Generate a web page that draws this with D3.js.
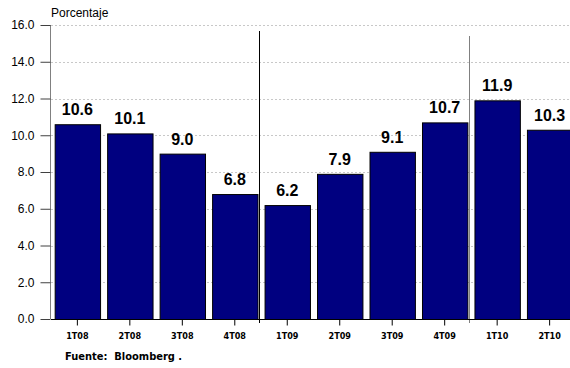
<!DOCTYPE html>
<html><head><meta charset="utf-8">
<script src="https://cdn.jsdelivr.net/npm/d3@7"></script>
<style>body{margin:0;background:#fff}svg{display:block}</style>
</head><body>
<svg id="c" width="570" height="368"></svg>
<script>
const categories = ["1T08","2T08","3T08","4T08","1T09","2T09","3T09","4T09","1T10","2T10"];
const values = [10.6,10.1,9.0,6.8,6.2,7.9,9.1,10.7,11.9,10.3];
const yTicks = [0,2,4,6,8,10,12,14,16];
const dividers = [{after:"4T08", top:31, color:"#000"}, {after:"4T09", top:36, color:"#808080"}];

const svg = d3.select("#c");
const x = d3.scaleBand().domain(categories).range([51, 576]).paddingInner(0.135).paddingOuter(0.07);
const y = d3.scaleLinear().domain([0,16]).range([319, 25]);

// gridlines
svg.append("g").selectAll("line").data(yTicks.filter(d=>d>0)).join("line")
  .attr("x1",51).attr("x2",570).attr("y1",d=>Math.round(y(d))+0.5).attr("y2",d=>Math.round(y(d))+0.5)
  .attr("stroke","#c8c8c8").attr("stroke-dasharray","2,2");

// bars
svg.append("g").selectAll("rect").data(values).join("rect")
  .attr("x",(d,i)=>x(categories[i])+0.5).attr("y",d=>y(d)+0.5)
  .attr("width",x.bandwidth()).attr("height",d=>y(0)-y(d))
  .attr("fill","#000080").attr("stroke","#000").attr("stroke-width",1);

// value labels
svg.append("g").selectAll("text").data(values).join("text")
  .attr("x",(d,i)=>x(categories[i])+x.bandwidth()/2).attr("y",d=>y(d)-9)
  .attr("text-anchor","middle").attr("font-family","Liberation Sans, Arial, sans-serif")
  .attr("font-weight","bold").attr("font-size","16px").attr("fill","#000")
  .text(d=>d.toFixed(1));

// dividers
const step = x.step();
svg.append("g").selectAll("line").data(dividers).join("line")
  .attr("x1",d=>Math.round(x(d.after)+x.bandwidth()+(step-x.bandwidth())/2)-1.5)
  .attr("x2",d=>Math.round(x(d.after)+x.bandwidth()+(step-x.bandwidth())/2)-1.5)
  .attr("y1",d=>d.top).attr("y2",323).attr("stroke",d=>d.color).attr("stroke-width",1);

// y axis
const ya = svg.append("g").attr("transform","translate(50.5,0)")
  .call(d3.axisLeft(y).tickValues(yTicks).tickFormat(d3.format(".1f")).tickSize(10).tickPadding(6));
ya.select(".domain").attr("stroke","#808080").attr("d","M0,25V319");
ya.selectAll(".tick line").attr("stroke","#404040");
ya.selectAll("text").attr("font-family","Liberation Sans, Arial, sans-serif").attr("font-size","12px").attr("fill","#000");

// x axis
const xa = svg.append("g").attr("transform","translate(0,319.5)")
  .call(d3.axisBottom(x).tickSize(6).tickPadding(7));
xa.select(".domain").attr("stroke","#000").attr("d","M51,0H570");
xa.selectAll(".tick line").attr("stroke","#000");
xa.selectAll("text").attr("font-family","Liberation Sans Narrow, DejaVu Sans Condensed, Arial Narrow, sans-serif")
  .attr("font-weight","bold").attr("font-size","9px").attr("fill","#000");

// titles
svg.append("text").attr("x",51).attr("y",17).attr("font-family","Liberation Sans, Arial, sans-serif")
  .attr("font-size","12px").attr("fill","#000").text("Porcentaje");
svg.append("text").attr("x",65).attr("y",360).attr("font-family","Liberation Sans Narrow, DejaVu Sans Condensed, Arial Narrow, sans-serif")
  .attr("font-size","11px").attr("font-weight","bold").attr("fill","#000").text("Fuente:  Bloomberg .")
  .style("white-space","pre");
</script>
</body></html>
